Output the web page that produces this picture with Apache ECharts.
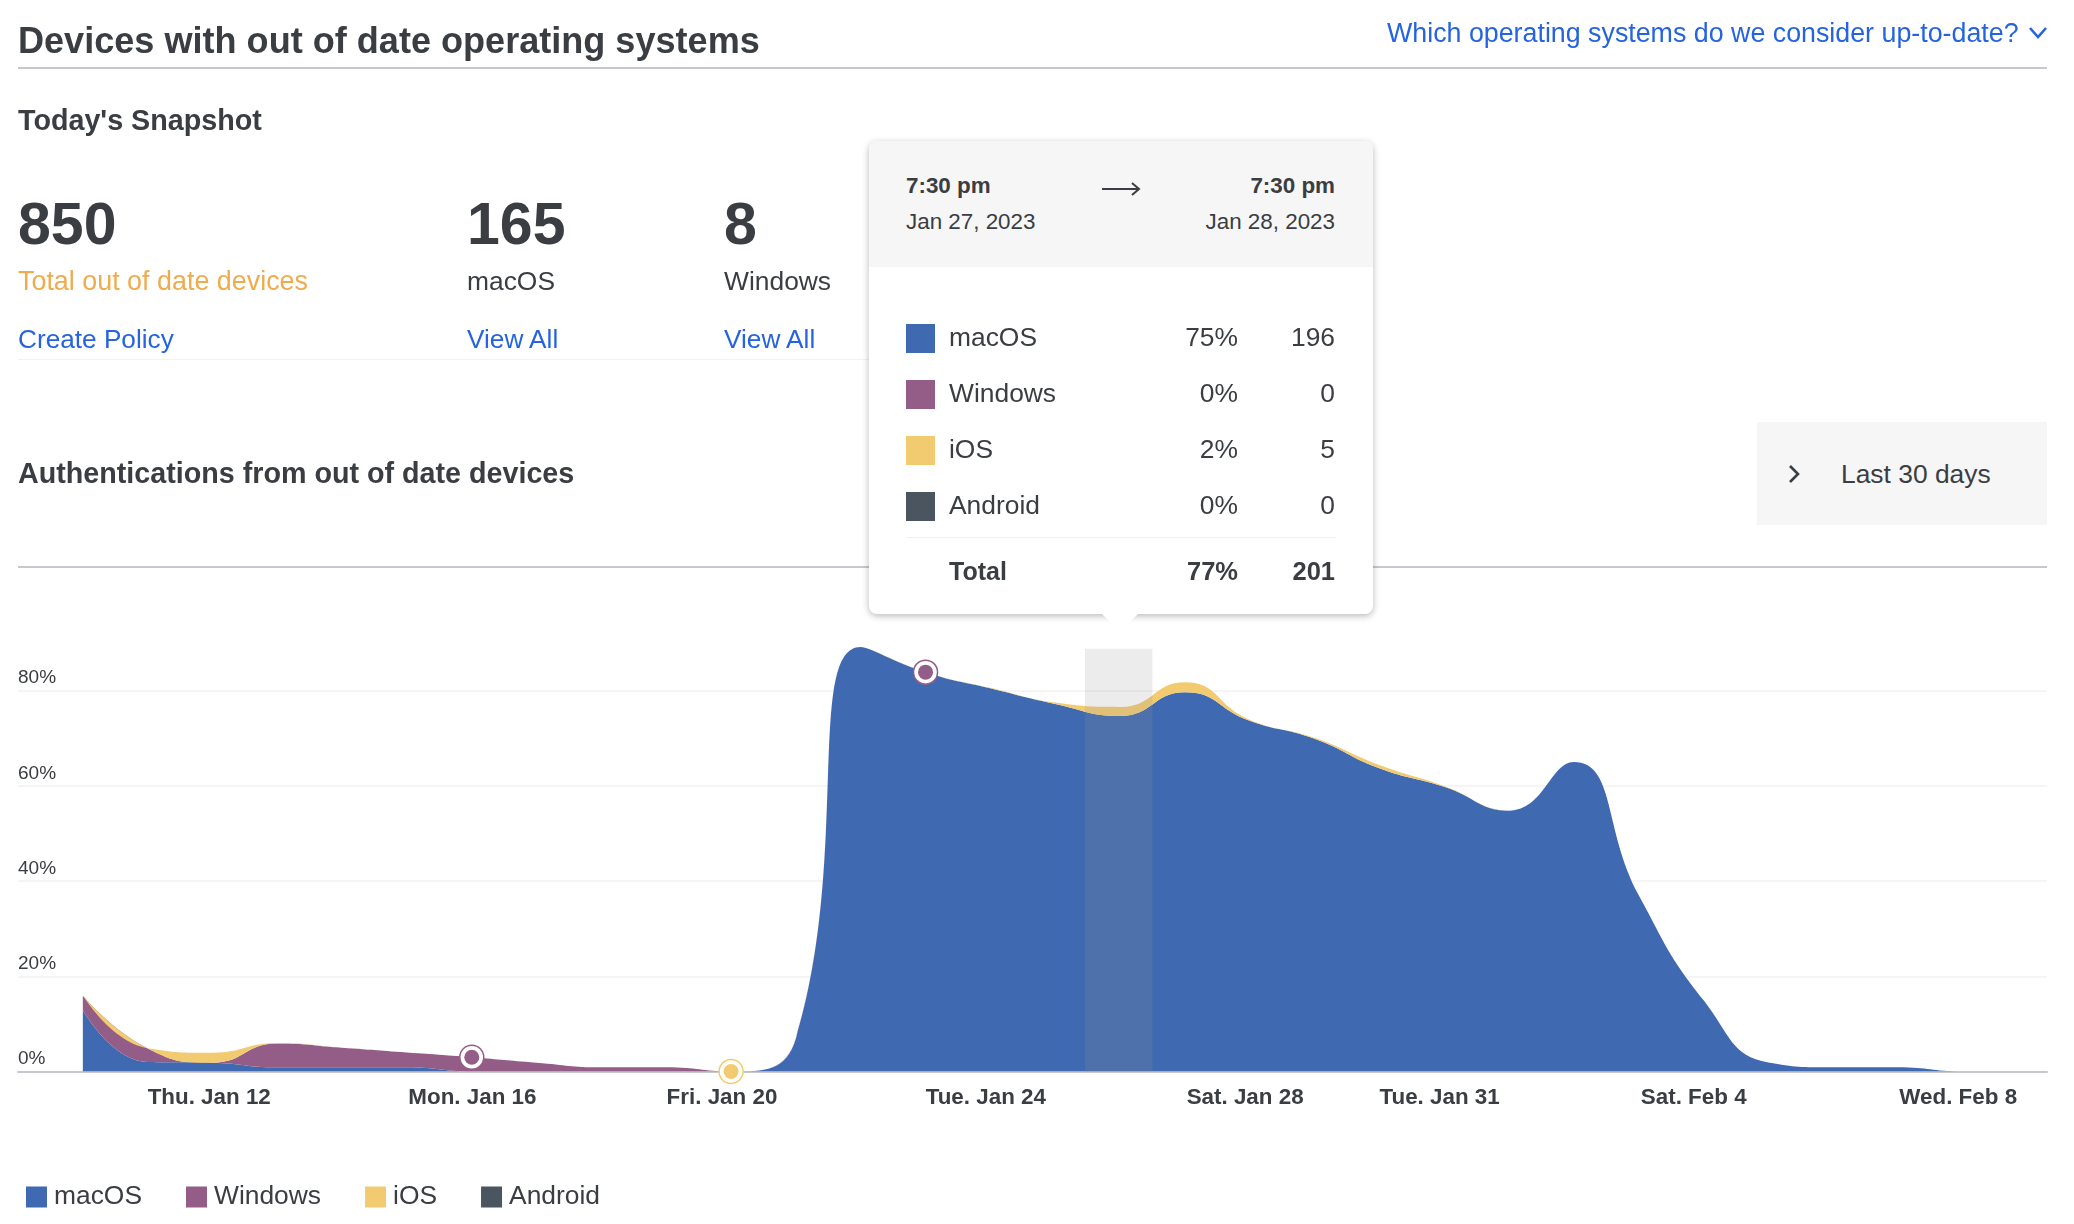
<!DOCTYPE html>
<html>
<head>
<meta charset="utf-8">
<title>Devices with out of date operating systems</title>
<script src="https://cdn.jsdelivr.net/npm/echarts@6/dist/echarts.min.js"></script>
<style>
html, body { margin: 0; padding: 0; background: #fff; }
body { width: 2074px; height: 1224px; position: relative; overflow: hidden; font-family: "Liberation Sans", Arial, sans-serif; color: #3a3d42; }
#chart { position: absolute; left: 0; top: 0; width: 2074px; height: 1224px; }
.t { position: absolute; white-space: nowrap; height: 40px; line-height: 40px; }
.b { font-weight: bold; }
.r { text-align: right; }
.link { color: #2563e0; font-size: 26.2px; }
.rule { position: absolute; left: 18px; height: 2px; background: #c6c8ce; }
.num { font-size: 59px; font-weight: bold; height: 70px; line-height: 70px; }
.lab { font-size: 26.4px; }
#range { position: absolute; left: 1757px; top: 422px; width: 290px; height: 103px; background: #f6f6f6; }
#tip { position: absolute; left: 869px; top: 141px; width: 504px; height: 473px; background: #fff; border-radius: 8px; box-shadow: 0 2px 7px rgba(0,0,0,.28); }
#tiphead { position: absolute; left: 0; top: 0; width: 504px; height: 126px; background: #f6f6f6; border-radius: 8px 8px 0 0; }
#tiparrow { position: absolute; left: 233px; top: 473px; width: 36px; height: 17px; background: #fff; clip-path: polygon(0 0, 100% 0, 50% 100%); }
.sw { position: absolute; left: 37px; width: 29px; height: 29px; }
</style>
</head>
<body>
<div id="chart"></div>

<div class="t b" style="left:18px;top:21px;font-size:36.1px;">Devices with out of date operating systems</div>
<div class="t link" style="left:1387px;top:13px;font-size:26.8px;">Which operating systems do we consider up-to-date?</div>
<svg style="position:absolute;left:2028px;top:26px;" width="20" height="14"><polyline points="2,2 10,11 18,2" fill="none" stroke="#2563e0" stroke-width="2.6"/></svg>
<div class="rule" style="top:67px;width:2029px;"></div>

<div class="t b" style="left:18px;top:100px;font-size:28.7px;">Today's Snapshot</div>
<div id="snapshot"></div>
<div class="rule" style="top:359px;width:851px;height:1px;background:#f2f2f2;"></div>

<div class="t b" style="left:18px;top:453px;font-size:28.7px;">Authentications from out of date devices</div>
<div id="range">
  <svg style="position:absolute;left:30px;top:41px;" width="14" height="22"><polyline points="3,3 11,11 3,19" fill="none" stroke="#3a3d42" stroke-width="2.6"/></svg>
  <div class="t lab" style="left:84px;top:32px;">Last 30 days</div>
</div>
<div class="rule" style="top:565.5px;width:2029px;"></div>

<div id="tip">
  <div id="tiphead">
    <div class="t b" style="left:37px;top:25px;font-size:22.4px;" id="fromTime"></div>
    <div class="t" style="left:37px;top:61px;font-size:22.4px;" id="fromDate"></div>
    <svg style="position:absolute;left:232px;top:38px;" width="40" height="20"><path d="M1,10 H38 M31,4 L38,10 L31,16" fill="none" stroke="#3a3d42" stroke-width="2"/></svg>
    <div class="t b r" style="right:38px;top:25px;font-size:22.4px;" id="toTime"></div>
    <div class="t r" style="right:38px;top:61px;font-size:22.4px;" id="toDate"></div>
  </div>
  <div id="tiprows"></div>
  <div style="position:absolute;left:37px;top:396px;width:430px;height:1px;background:#f0f0f0;"></div>
  <div id="tiparrow"></div>
</div>

<script>
// values, percent of devices per day
var osNames = ['macOS', 'Windows', 'iOS', 'Android'];
var osColors = ['#3f69b0', '#945d87', '#f2cb70', '#4a5560'];

var days = [0,1,2,3,4,5,6,7,8,9,10,11,12,13,14,15,16,17,18,19,20,21,22,23,24,25,26,27,28,29,30];
var macos = [12.9,2.0,1.85,0.87,0.87,0.87,0,0,0,0,0,6.9,89.2,83.9,80.5,77.2,74.7,79.7,73.7,69.9,63.7,59.8,54.8,65,37.1,15,1.9,0.88,0.88,0,0];
var windows = [3.0,2.85,0,5.0,4.1,3.1,3.0,1.85,0.87,0.87,0,0.1,0,0,0,0,0,0,0,0,0,0,0,0,0,0,0,0,0,0,0];
var ios = [0.1,0.05,2.1,0.1,0,0,0,0,0,0,0,0,0,0,0.1,0.3,1.9,2.1,0.2,0.2,0.7,0.2,0,0,0,0,0,0,0,0,0];
var android = [0,0,0,0,0,0,0,0,0,0,0,0,0,0,0,0,0,0,0,0,0,0,0,0,0,0,0,0,0,0,0];

var tickDays = [1.95,6.01,9.86,13.93,17.93,20.93,24.85,28.93];
var tickLabels = ['Thu. Jan 12','Mon. Jan 16','Fri. Jan 20','Tue. Jan 24','Sat. Jan 28','Tue. Jan 31','Sat. Feb 4','Wed. Feb 8'];
var yTicks = [0,20,40,60,80];

var purpleMarks = [[6,3],[13,83.9]];
var yellowMarks = [[10,0]];
var bandFrom = 15.46, bandTo = 16.5, bandTop = 88.8;

var snapshotNums = ['850','165','8'];
var snapshotNames = ['Total out of date devices','macOS','Windows'];
var snapshotLinks = ['Create Policy','View All','View All'];
var snapshotLeft = [18,467,724];

var tipPct = ['75%','0%','2%','0%'];
var tipCount = ['196','0','5','0'];
var tipTotal = ['Total','77%','201'];

// pct goes first: on a value x axis the stack adds up whichever numeric column comes first
function pairs(arr) {
	var out = [];
	for (var i = 0; i < days.length; i++) {
		out.push([arr[i], days[i]]);
	}
	return out;
}

// page text around the chart
var html = '';
for (var i = 0; i < snapshotNums.length; i++) {
	var left = snapshotLeft[i];
	html += '<div class="t num" style="left:' + left + 'px;top:189px;">' + snapshotNums[i] + '</div>';
	html += '<div class="t lab" style="left:' + left + 'px;top:261px;' + (i == 0 ? 'color:#efac4e;font-size:26.9px;' : '') + '">' + snapshotNames[i] + '</div>';
	html += '<div class="t link" style="left:' + left + 'px;top:318.5px;">' + snapshotLinks[i] + '</div>';
}
document.getElementById('snapshot').innerHTML = html;

document.getElementById('fromTime').textContent = '7:30 pm';
document.getElementById('fromDate').textContent = 'Jan 27, 2023';
document.getElementById('toTime').textContent = '7:30 pm';
document.getElementById('toDate').textContent = 'Jan 28, 2023';

var rows = '';
for (var i = 0; i < osNames.length; i++) {
	var rowTop = 183 + i * 56;
	rows += '<div class="sw" style="top:' + rowTop + 'px;background:' + osColors[i] + ';"></div>';
	rows += '<div class="t lab" style="left:80px;top:' + (rowTop - 7.5) + 'px;">' + osNames[i] + '</div>';
	rows += '<div class="t lab r" style="right:135px;top:' + (rowTop - 7.5) + 'px;">' + tipPct[i] + '</div>';
	rows += '<div class="t lab r" style="right:38px;top:' + (rowTop - 7.5) + 'px;">' + tipCount[i] + '</div>';
}
rows += '<div class="t b" style="left:80px;top:410px;font-size:25px;">' + tipTotal[0] + '</div>';
rows += '<div class="t b r" style="right:135px;top:410px;font-size:25.5px;">' + tipTotal[1] + '</div>';
rows += '<div class="t b r" style="right:38px;top:410px;font-size:25.5px;">' + tipTotal[2] + '</div>';
document.getElementById('tiprows').innerHTML = rows;

// chart
var myChart = echarts.init(document.getElementById('chart'));

var seriesData = [macos, windows, ios, android];
var series = [];
for (var i = 0; i < osNames.length; i++) {
	series.push({
		name: osNames[i],
		type: 'line',
		stack: 'os',
		encode: { x: 1, y: 0 },
		smooth: 0.5,
		showSymbol: false,
		lineStyle: { width: 0 },
		itemStyle: { color: osColors[i] },
		areaStyle: { color: osColors[i], opacity: 1 },
		data: pairs(seriesData[i])
	});
}

series.push({
	name: 'band',
	type: 'line',
	z: 4,
	data: [],
	markArea: {
		silent: true,
		z: 5,
		itemStyle: { color: 'rgba(150,150,155,0.18)' },
		data: [[{ xAxis: bandFrom, yAxis: 0 }, { xAxis: bandTo, yAxis: bandTop }]]
	}
});

function ring(name, data, size, fill, border) {
	return {
		name: name,
		type: 'scatter',
		z: 10,
		clip: false,
		symbolSize: size,
		itemStyle: { color: fill, borderColor: border, borderWidth: border ? 1.5 : 0, opacity: 1 },
		data: data
	};
}
series.push(ring('p1', purpleMarks, 24, '#fff', osColors[1]));
series.push(ring('p2', purpleMarks, 15, osColors[1]));
series.push(ring('y1', yellowMarks, 24, '#fff', osColors[2]));
series.push(ring('y2', yellowMarks, 15, osColors[2]));

var option = {
	animation: false,
	textStyle: { fontFamily: '"Liberation Sans", Arial, sans-serif' },
	grid: { left: 18, right: 27, top: 643.1, bottom: 152.5 },
	legend: {
		data: osNames,
		left: 26,
		top: 1184,
		padding: 0,
		icon: 'rect',
		itemWidth: 21,
		itemHeight: 21,
		itemGap: 44,
		selectedMode: false,
		textStyle: { fontSize: 26.4, color: '#3a3d42', padding: [0, 0, 0, 2] }
	},
	xAxis: {
		type: 'value',
		min: -1,
		max: 30.3,
		splitLine: { show: false },
		axisTick: { show: false, customValues: tickDays },
		axisLine: { show: true, onZero: false, lineStyle: { color: '#c6c8ce', width: 2 } },
		axisLabel: {
			customValues: tickDays,
			margin: 15,
			fontSize: 22.4,
			fontWeight: 'bold',
			color: '#3a3d42',
			formatter: function(v) {
				return tickLabels[tickDays.indexOf(v)];
			}
		}
	},
	yAxis: {
		type: 'value',
		min: 0,
		max: 90,
		axisLine: { show: false },
		axisTick: { show: false, customValues: yTicks },
		splitLine: { show: true, lineStyle: { color: '#f5f5f5', width: 2 } },
		axisLabel: {
			customValues: yTicks,
			inside: true,
			margin: 0,
			align: 'left',
			verticalAlign: 'bottom',
			padding: [0, 0, 3, 0],
			fontSize: 19,
			color: '#3a3d42',
			formatter: '{value}%'
		}
	},
	series: series
};
myChart.setOption(option);
</script>
</body>
</html>
